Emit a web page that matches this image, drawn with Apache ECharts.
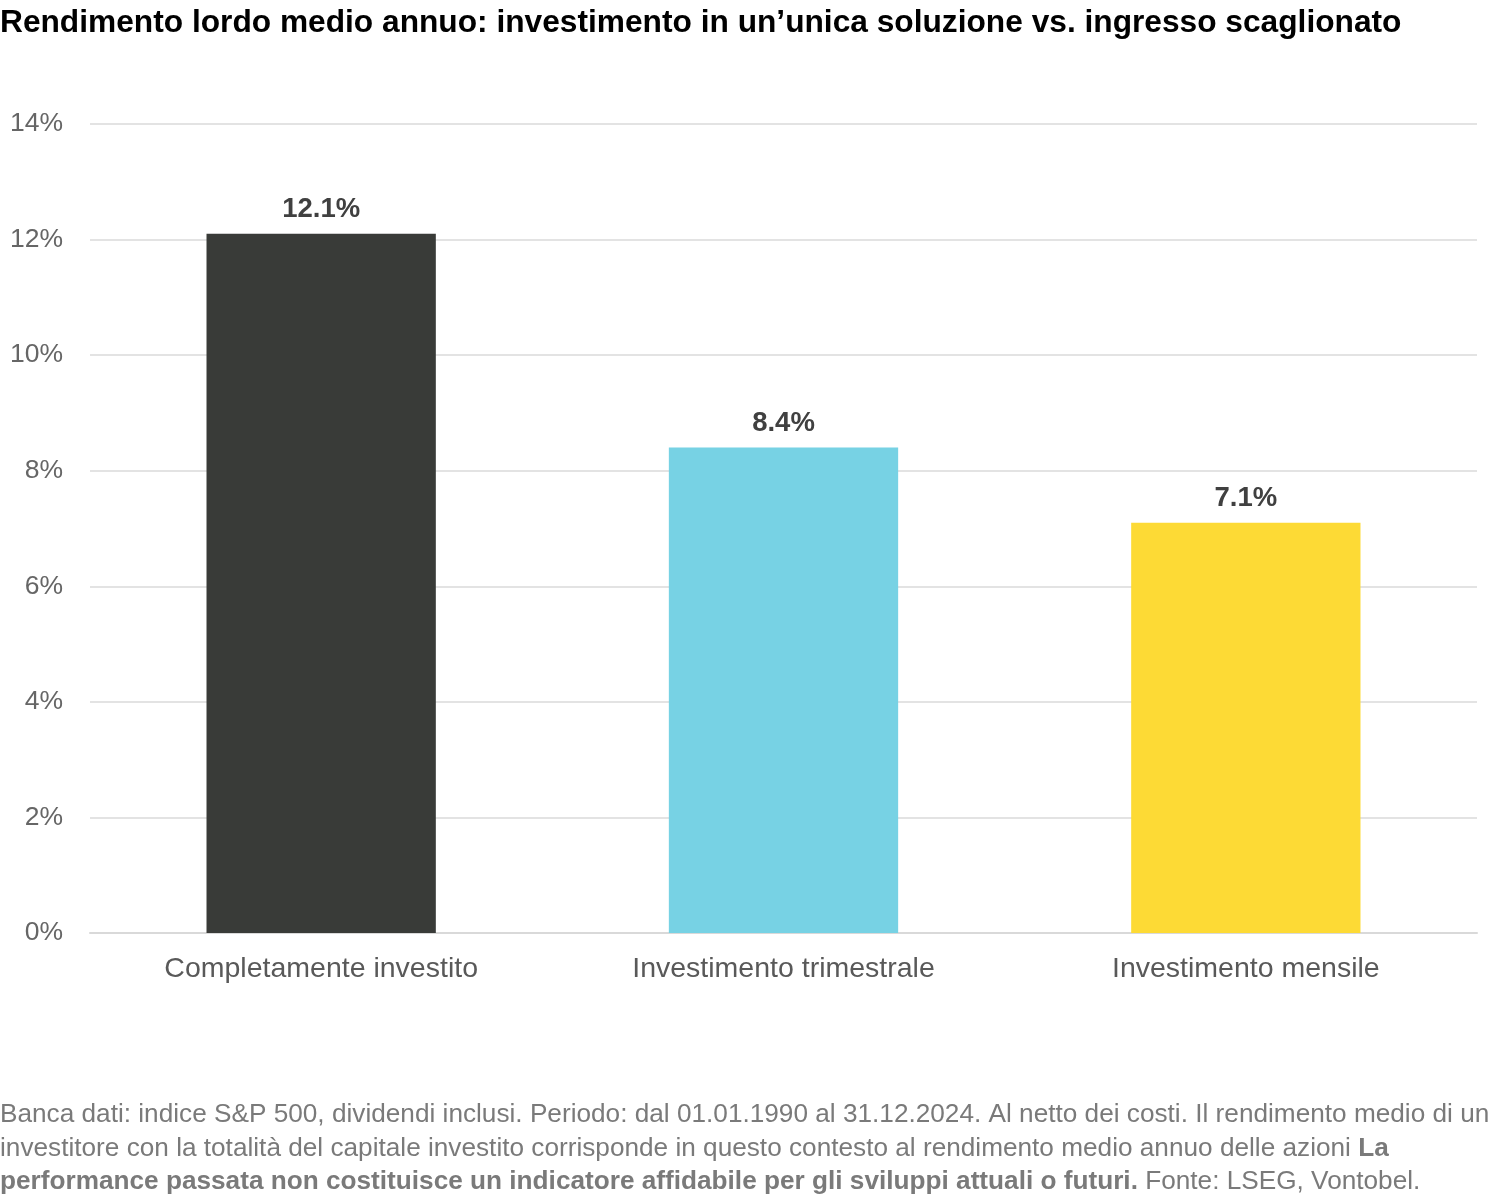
<!DOCTYPE html>
<html>
<head>
<meta charset="utf-8">
<script src="https://cdn.jsdelivr.net/npm/echarts@6/dist/echarts.min.js"></script>
<style>
html,body{margin:0;padding:0;background:#fff;}
#chart{width:1500px;height:1196px;}
</style>
</head>
<body>
<div id="chart"></div>
<script>
const titleText = 'Rendimento lordo medio annuo: investimento in un\u2019unica soluzione vs. ingresso scaglionato';
const categories = ['Completamente investito', 'Investimento trimestrale', 'Investimento mensile'];
const values = [12.1, 8.4, 7.1];
const barColors = ['#393b38', '#77d2e4', '#fdda35'];
const yTicks = [0, 2, 4, 6, 8, 10, 12, 14];
const footerLine1 = 'Banca dati: indice S&P 500, dividendi inclusi. Periodo: dal 01.01.1990 al 31.12.2024. Al netto dei costi. Il rendimento medio di un';
const footerLine2 = 'investitore con la totalità del capitale investito corrisponde in questo contesto al rendimento medio annuo delle azioni ';
const footerLine2Bold = 'La';
const footerLine3Bold = 'performance passata non costituisce un indicatore affidabile per gli sviluppi attuali o futuri.';
const footerLine3 = ' Fonte: LSEG, Vontobel.';

const chart = echarts.init(document.getElementById('chart'));
const FONT = '"Liberation Sans", Arial, sans-serif';
chart.setOption({
  backgroundColor: '#ffffff',
  animation: false,
  title: {
    text: titleText,
    left: 0,
    top: 2,
    padding: [5, 0, 5, 0],
    textStyle: { fontFamily: FONT, fontSize: 31.7, fontWeight: 'bold', color: '#000000' }
  },
  grid: { left: 90, right: 23, top: 124, bottom: 263, containLabel: false },
  xAxis: {
    type: 'category',
    data: categories,
    axisLine: { show: true, lineStyle: { color: '#d9d9d9', width: 2 } },
    axisTick: { show: false },
    axisLabel: { fontFamily: FONT, fontSize: 28.5, color: '#595959', margin: 22 }
  },
  yAxis: {
    type: 'value',
    min: yTicks[0],
    max: yTicks[yTicks.length - 1],
    interval: 2,
    axisLine: { show: false },
    axisTick: { show: false },
    splitLine: { lineStyle: { color: '#e3e3e3', width: 2 } },
    axisLabel: { fontFamily: FONT, fontSize: 26.5, color: '#666666', margin: 27, padding: [3, 0, 0, 0], formatter: v => v + '%' }
  },
  series: [{
    type: 'bar',
    barWidth: '49.6%',
    data: values.map((v, i) => ({ value: v, itemStyle: { color: barColors[i] } })),
    label: {
      show: true,
      position: 'top',
      distance: 10,
      fontFamily: FONT,
      fontSize: 27.5,
      fontWeight: 'bold',
      color: '#404040',
      formatter: p => p.value.toFixed(1) + '%'
    }
  }],
  graphic: [{
    type: 'text',
    left: 0,
    top: 1102,
    style: {
      text: '{n|' + footerLine1 + '}\n{n|' + footerLine2 + '}{b|' + footerLine2Bold + '}\n{b|' + footerLine3Bold + '}{n|' + footerLine3 + '}',
      rich: {
        n: { fontFamily: FONT, fontSize: 26.2, fill: '#7a7a7a', lineHeight: 33.5 },
        b: { fontFamily: FONT, fontSize: 26.2, fontWeight: 'bold', fill: '#7a7a7a', lineHeight: 33.5 }
      }
    }
  }]
});
</script>
</body>
</html>
